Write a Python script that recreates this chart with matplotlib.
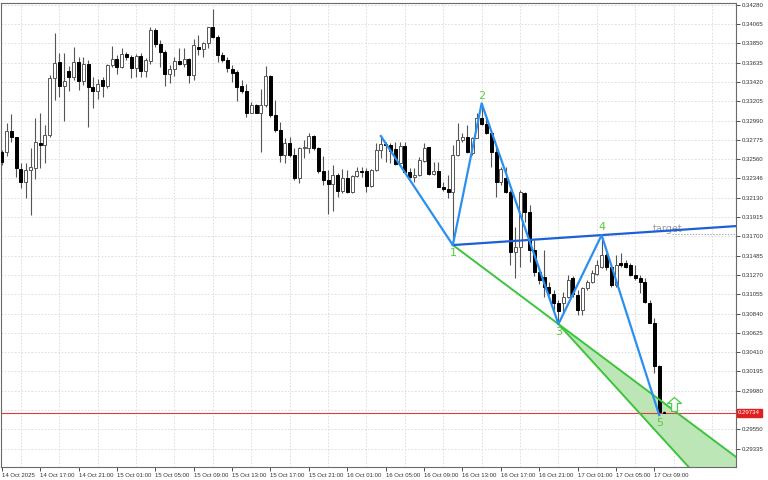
import matplotlib
matplotlib.use("Agg")
import matplotlib.pyplot as plt
import matplotlib.transforms as mtransforms
from matplotlib.path import Path
import numpy as np

# 30 minute bars, 14 Oct 2025 13:00 -> 17 Oct 2025 10:00
opens = [0.32642, 0.32642, 0.32873, 0.32802, 0.32449, 0.32308, 0.32438, 0.32457, 0.32742, 0.32717,
         0.32828, 0.33460, 0.33638, 0.33377, 0.33544, 0.33478, 0.33638, 0.33433, 0.33619, 0.33366,
         0.33322, 0.33441, 0.33377, 0.33608, 0.33675, 0.33589, 0.33730, 0.33694, 0.33571, 0.33711,
         0.33544, 0.33656, 0.33998, 0.33838, 0.33749, 0.33508, 0.33563, 0.33656, 0.33619, 0.33675,
         0.33496, 0.33812, 0.33786, 0.33850, 0.34028, 0.33923, 0.33719, 0.33664, 0.33563, 0.33527,
         0.33374, 0.33322, 0.33076, 0.33162, 0.33070, 0.33162, 0.33485, 0.33051, 0.32884, 0.32605,
         0.32736, 0.32605, 0.32346, 0.32680, 0.32680, 0.32817, 0.32680, 0.32430, 0.32327, 0.32282,
         0.32382, 0.32208, 0.32346, 0.32196, 0.32371, 0.32430, 0.32430, 0.32260, 0.32438, 0.32661,
         0.32728, 0.32717, 0.32669, 0.32519, 0.32706, 0.32419, 0.32364, 0.32382, 0.32542, 0.32691,
         0.32394, 0.32427, 0.32252, 0.32223, 0.32190, 0.32605, 0.32772, 0.32802, 0.32624, 0.32798,
         0.33014, 0.32947, 0.32847, 0.32642, 0.32301, 0.32346, 0.32196, 0.31528, 0.31584, 0.32179,
         0.31970, 0.31547, 0.31302, 0.31246, 0.31138, 0.31053, 0.30953, 0.30953, 0.31027, 0.31232,
         0.31046, 0.30879, 0.31120, 0.31194, 0.31280, 0.31361, 0.31491, 0.31361, 0.31157, 0.31399,
         0.31399, 0.31380, 0.31268, 0.31232, 0.31194, 0.30953, 0.30737, 0.30258, 0.29742]
highs = [0.32661, 0.32958, 0.33059, 0.32810, 0.32513, 0.32513, 0.32680, 0.33014, 0.33070, 0.32939,
         0.33496, 0.33961, 0.33738, 0.33738, 0.33600, 0.33805, 0.33694, 0.33694, 0.33664, 0.33471,
         0.33452, 0.33478, 0.33619, 0.33823, 0.33719, 0.33794, 0.33756, 0.33719, 0.33730, 0.33738,
         0.33682, 0.34028, 0.34017, 0.33886, 0.33775, 0.33608, 0.33700, 0.33794, 0.33794, 0.33682,
         0.33894, 0.33942, 0.33867, 0.34035, 0.34228, 0.33942, 0.33756, 0.33694, 0.33608, 0.33552,
         0.33441, 0.33396, 0.33199, 0.33173, 0.33337, 0.33597, 0.33496, 0.33218, 0.32976, 0.32791,
         0.32809, 0.32680, 0.32698, 0.32772, 0.32854, 0.32828, 0.32698, 0.32594, 0.32438, 0.32494,
         0.32408, 0.32446, 0.32438, 0.32382, 0.32468, 0.32475, 0.32457, 0.32446, 0.32742, 0.32817,
         0.32753, 0.32736, 0.32753, 0.32753, 0.32753, 0.32457, 0.32457, 0.32586, 0.32742, 0.32698,
         0.32531, 0.32531, 0.32308, 0.32382, 0.32717, 0.32958, 0.32847, 0.32939, 0.32809, 0.33070,
         0.33181, 0.33014, 0.32884, 0.32717, 0.32475, 0.32475, 0.32215, 0.31807, 0.32215, 0.32196,
         0.32048, 0.31658, 0.31340, 0.31547, 0.31191, 0.31101, 0.30990, 0.31082, 0.31268, 0.31257,
         0.31101, 0.31138, 0.31213, 0.31324, 0.31436, 0.31714, 0.31510, 0.31380, 0.31491, 0.31510,
         0.31436, 0.31399, 0.31380, 0.31268, 0.31232, 0.30990, 0.30786, 0.30266, 0.29753]
lows = [0.32494, 0.32594, 0.32753, 0.32364, 0.32241, 0.32123, 0.31937, 0.32335, 0.32457, 0.32513,
        0.32809, 0.33218, 0.33255, 0.32987, 0.33322, 0.33441, 0.33329, 0.33385, 0.32921, 0.33126,
        0.33229, 0.33248, 0.33348, 0.33589, 0.33508, 0.33571, 0.33664, 0.33460, 0.33471, 0.33471,
        0.33471, 0.33619, 0.33812, 0.33589, 0.33374, 0.33404, 0.33485, 0.33608, 0.33589, 0.33404,
        0.33441, 0.33719, 0.33700, 0.33794, 0.33905, 0.33645, 0.33645, 0.33533, 0.33422, 0.33210,
        0.33293, 0.33025, 0.33070, 0.33070, 0.32642, 0.33143, 0.33032, 0.32865, 0.32531, 0.32513,
        0.32586, 0.32327, 0.32290, 0.32569, 0.32624, 0.32661, 0.32408, 0.32271, 0.31948, 0.31985,
        0.32141, 0.32185, 0.32185, 0.32179, 0.32357, 0.32357, 0.32196, 0.32252, 0.32430, 0.32569,
        0.32531, 0.32513, 0.32494, 0.32505, 0.32401, 0.32346, 0.32308, 0.32371, 0.32531, 0.32382,
        0.32382, 0.32245, 0.32208, 0.32126, 0.31603, 0.32598, 0.32753, 0.32624, 0.32605, 0.32791,
        0.32939, 0.32836, 0.32475, 0.32141, 0.32271, 0.32179, 0.31380, 0.31238, 0.31361, 0.31859,
        0.31413, 0.31257, 0.31168, 0.31023, 0.31046, 0.30879, 0.30723, 0.30842, 0.31009, 0.31027,
        0.30823, 0.30823, 0.31101, 0.31176, 0.31268, 0.31346, 0.31324, 0.31138, 0.31138, 0.31361,
        0.31343, 0.31257, 0.31213, 0.31065, 0.30953, 0.30730, 0.30173, 0.29709, 0.29728]
closes = [0.32531, 0.32873, 0.32802, 0.32457, 0.32308, 0.32438, 0.32468, 0.32747, 0.32720, 0.32828,
          0.33460, 0.33627, 0.33377, 0.33433, 0.33478, 0.33638, 0.33433, 0.33619, 0.33359, 0.33322,
          0.33396, 0.33377, 0.33608, 0.33675, 0.33589, 0.33730, 0.33694, 0.33571, 0.33711, 0.33544,
          0.33664, 0.33998, 0.33838, 0.33749, 0.33508, 0.33563, 0.33656, 0.33619, 0.33675, 0.33496,
          0.33831, 0.33786, 0.33850, 0.34028, 0.33923, 0.33719, 0.33664, 0.33571, 0.33522, 0.33366,
          0.33322, 0.33070, 0.33162, 0.33076, 0.33162, 0.33485, 0.33051, 0.32884, 0.32605, 0.32736,
          0.32605, 0.32346, 0.32680, 0.32698, 0.32817, 0.32680, 0.32430, 0.32327, 0.32282, 0.32382,
          0.32208, 0.32346, 0.32196, 0.32371, 0.32430, 0.32419, 0.32260, 0.32438, 0.32661, 0.32728,
          0.32713, 0.32653, 0.32505, 0.32706, 0.32419, 0.32364, 0.32382, 0.32550, 0.32680, 0.32394,
          0.32427, 0.32252, 0.32223, 0.32193, 0.32605, 0.32772, 0.32802, 0.32635, 0.32798, 0.33021,
          0.32947, 0.32847, 0.32642, 0.32308, 0.32449, 0.32196, 0.31528, 0.31584, 0.32190, 0.31970,
          0.31547, 0.31302, 0.31213, 0.31135, 0.31065, 0.30953, 0.30867, 0.31027, 0.31213, 0.31053,
          0.30879, 0.31120, 0.31194, 0.31287, 0.31380, 0.31491, 0.31361, 0.31157, 0.31380, 0.31380,
          0.31361, 0.31268, 0.31232, 0.31194, 0.30971, 0.30737, 0.30258, 0.29739, 0.29734]

time_labels = ["14 Oct 2025", "14 Oct 17:00", "14 Oct 21:00", "15 Oct 01:00", "15 Oct 05:00",
               "15 Oct 09:00", "15 Oct 13:00", "15 Oct 17:00", "15 Oct 21:00", "16 Oct 01:00",
               "16 Oct 05:00", "16 Oct 09:00", "16 Oct 13:00", "16 Oct 17:00", "16 Oct 21:00",
               "17 Oct 01:00", "17 Oct 05:00", "17 Oct 09:00"]
# the 0.29765 level is hidden behind the current-price box
price_labels = ["0.34280", "0.34065", "0.33850", "0.33635", "0.33420", "0.33205", "0.32990",
                "0.32775", "0.32560", "0.32346", "0.32130", "0.31915", "0.31700", "0.31485",
                "0.31270", "0.31055", "0.30840", "0.30625", "0.30410", "0.30195", "0.29980",
                "", "0.29550", "0.29335"]

# Wolfe wave: start, 1, 2, 3, 4, 5 (bar index, price)
wave_bars = [79, 94, 100, 116, 125, 137]
wave_prices = [0.32817, 0.31603, 0.33181, 0.30723, 0.31714, 0.29709]
wave_names = ["1", "2", "3", "4", "5"]
target_bar, target_price = 139.6, 0.31725
signal_bar, signal_price = 140, 0.29837
last_price = 0.29734

o, h, l, c = map(np.array, (opens, highs, lows, closes))
idx = np.arange(len(o))
up = c >= o

fig = plt.figure(figsize=(7.68, 4.8), dpi=100)
ax = fig.add_axes([1 / 768, 13 / 480, 735 / 768, 464 / 480])
x_left, x_right = -0.15, 153.0
ax.set_xlim(x_left, x_right)
ax.set_ylim(0.29131, 0.34299)

# grid
ax.set_yticks([0.34280 - k * 0.00215 for k in range(len(price_labels))])
ax.set_yticklabels(price_labels)
ax.set_xticks(np.arange(0, len(o), 8))
ax.set_xticklabels(time_labels, ha="left")
ax.set_xticks(np.arange(4, 153, 8), minor=True)
ax.grid(True, axis="y", which="major", color="#d9d9d9", ls=(0, (2, 2)), lw=0.6)
ax.grid(True, axis="x", which="minor", color="#d9d9d9", ls=(0, (2, 2)), lw=0.6)
ax.set_axisbelow(True)

ax.yaxis.tick_right()
ax.tick_params(axis="y", direction="out", length=3, pad=1.5, labelsize=4.3,
               colors="#333333", width=0.6)
ax.tick_params(axis="x", which="major", direction="out", length=3, pad=1.5, labelsize=4.3,
               colors="#333333", width=0.6)
ax.tick_params(axis="x", which="minor", length=0)
for lab in ax.get_xticklabels() + ax.get_yticklabels():
    lab.set_family("Liberation Sans")
for sp in ax.spines.values():
    sp.set_color("#6a6a6a")
    sp.set_linewidth(0.8)

# current price line
ax.axhline(last_price, color="#e23b3b", lw=0.8, zorder=1.5)
trans = mtransforms.blended_transform_factory(ax.transAxes, ax.transData)
ax.text(1.003, last_price, f"{last_price:.5f}", transform=trans, color="white",
        fontsize=4.3, family="Liberation Sans", va="center", ha="left", clip_on=False,
        zorder=10, bbox=dict(boxstyle="square,pad=0.25", fc="#e02020", ec="#e02020"))

# green sweet zone: line 1-3 and a line from 3 parallel to 2-4
p1, p2, p3, p4 = wave_prices[1:5]
b1, b2, b3, b4 = wave_bars[1:5]
s13 = (p3 - p1) / (b3 - b1)
s24 = (p4 - p2) / (b4 - b2)
s14 = (p4 - p1) / (b4 - b1)
xs = np.linspace(b3, x_right, 50)
ax.fill_between(xs, p3 + s13 * (xs - b3), p3 + s24 * (xs - b3), color="#bde6b6", lw=0, zorder=1)
ax.plot([b1, x_right], [p1, p1 + s13 * (x_right - b1)], color="#3dc43d", lw=1.4, zorder=4)
ax.plot([b3, x_right], [p3, p3 + s24 * (x_right - b3)], color="#3dc43d", lw=1.4, zorder=4)

# candles
ax.vlines(idx, l, h, colors="#555555", lw=0.8, zorder=2)
lo = np.minimum(o, c)
hh = np.maximum(np.abs(c - o), 0.00002)
ax.bar(idx[up], hh[up], bottom=lo[up], width=0.62, color="white", edgecolor="#555555",
       lw=0.7, zorder=3)
ax.bar(idx[~up], hh[~up], bottom=lo[~up], width=0.62, color="black", edgecolor="black",
       lw=0.7, zorder=3)

# target
ax.plot([target_bar, x_right], [target_price, target_price], color="#a8a8a8", lw=0.7,
        ls=(0, (1.5, 1.5)), zorder=3.5)
ax.text(target_bar - 0.8, target_price + 0.0006, "target", color="#9a9a9a", fontsize=7,
        ha="center", va="center", zorder=3.6)

# 1-4 line and wave zigzag
ax.plot([b1, x_right], [p1, p1 + s14 * (x_right - b1)], color="#1f5fd6", lw=1.6, zorder=5)
ax.plot(wave_bars, wave_prices, color="#2b8ff0", lw=1.6, zorder=6)
for k, name in enumerate(wave_names):
    below = k % 2 == 0
    ax.annotate(name, (wave_bars[k + 1], wave_prices[k + 1]), xytext=(0, -5.5 if below else 5.5),
                textcoords="offset points", ha="center", va="center", fontsize=8,
                color="#5cc93e", zorder=7)

# buy signal arrow
arrow = Path([(0, 1), (-1, 0.15), (-0.42, 0.15), (-0.42, -1), (0.42, -1), (0.42, 0.15),
              (1, 0.15), (0, 1)],
             [Path.MOVETO] + [Path.LINETO] * 6 + [Path.CLOSEPOLY])
ax.plot([signal_bar], [signal_price], marker=arrow, ms=10, mfc="white", mec="#4ccc4c",
        mew=0.9, ls="none", zorder=7)

fig.savefig("out.png", dpi=100)
